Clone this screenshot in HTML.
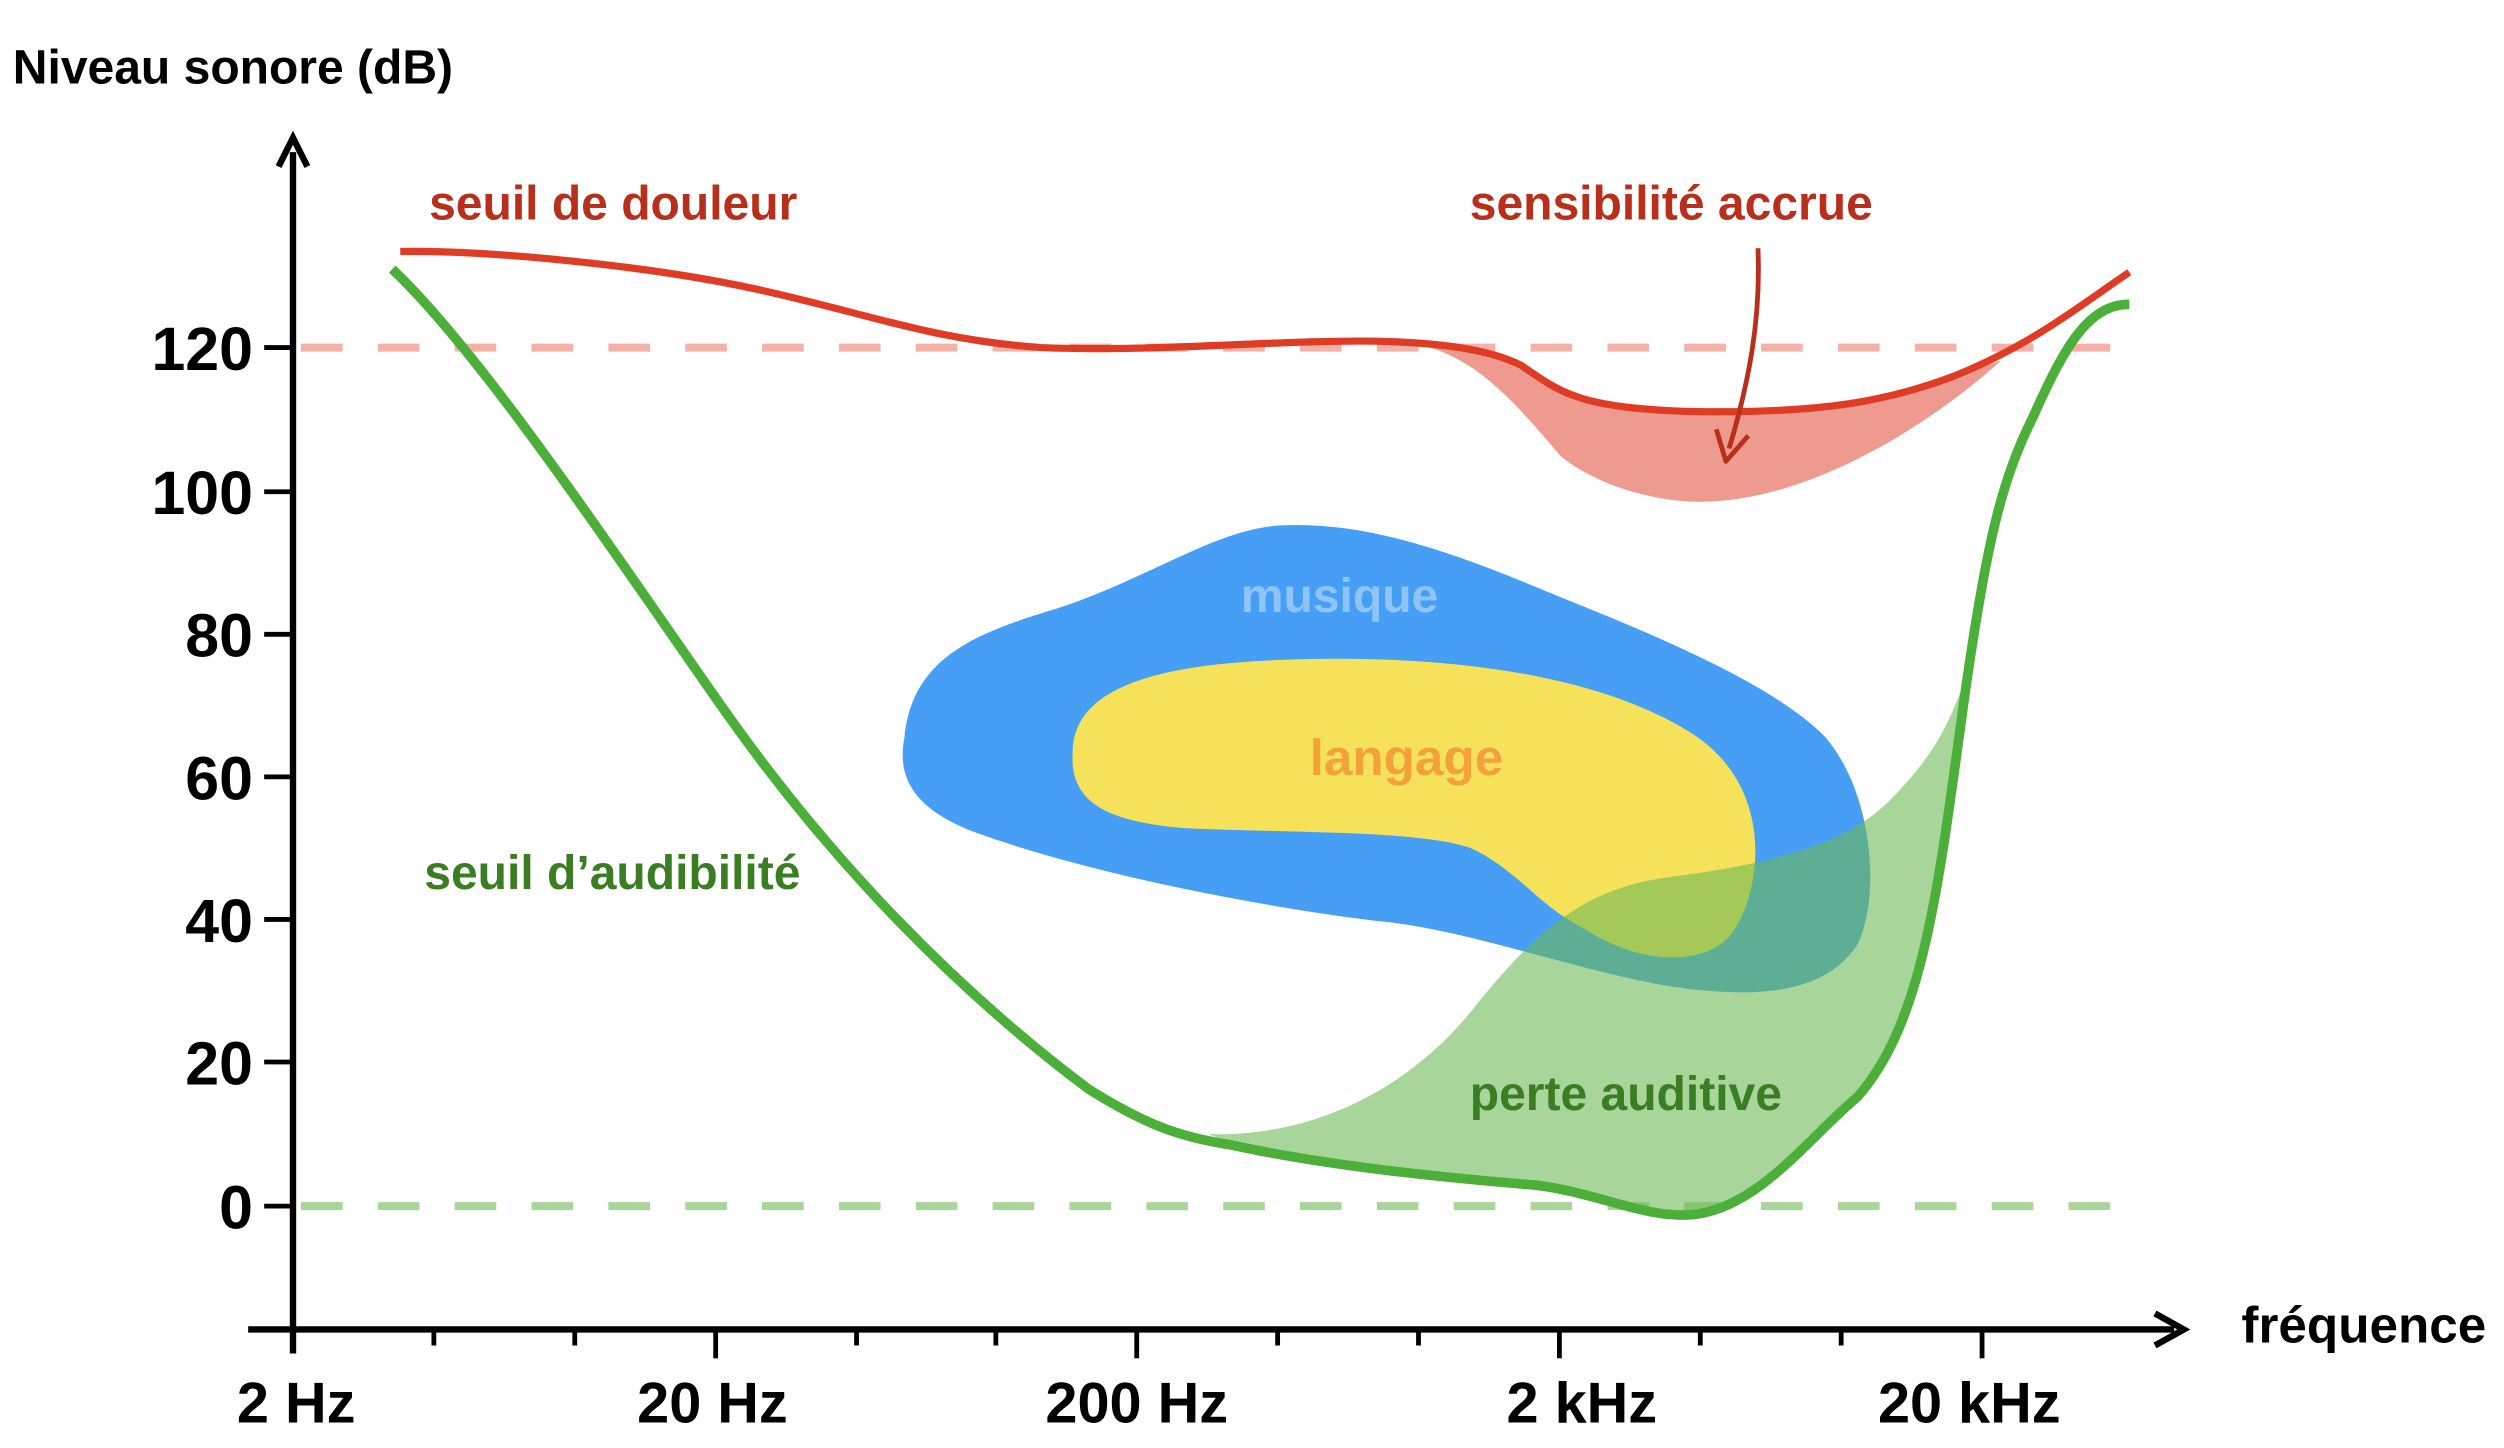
<!DOCTYPE html>
<html><head><meta charset="utf-8"><style>
html,body{margin:0;padding:0;background:#fff;}
svg{display:block;}
text{font-family:"Liberation Sans","DejaVu Sans",sans-serif;font-weight:bold;}
</style></head><body>
<svg width="2504" height="1448" viewBox="0 0 1564 904" preserveAspectRatio="none" xmlns="http://www.w3.org/2000/svg">
<rect width="1564" height="904" fill="#fff"/>
<line x1="188" y1="217" x2="1340" y2="217" stroke="#f4b1a6" stroke-width="5" stroke-dasharray="26 22"/>
<line x1="188" y1="753" x2="1340" y2="753" stroke="#a8d59a" stroke-width="5" stroke-dasharray="26 22"/>
<path d="M565,460 C570,410 610,395 660,380 C720,360 760,330 800,328 C860,325 920,350 980,375 C1050,403 1110,430 1140,460 C1170,495 1175,560 1160,590 C1140,620 1100,622 1060,618 C1000,612 920,580 860,575 C780,565 680,545 610,520 C570,505 560,485 565,460 Z" fill="#479ff5"/>
<path d="M670,470 C670,430 720,415 800,412 C900,408 1000,420 1060,460 C1110,495 1100,560 1080,585 C1060,605 1020,600 990,580 C960,565 950,545 920,530 C890,518 800,520 740,517 C690,513 668,500 670,470 Z" fill="#f5e25a"/>
<path d="M755,708 C820,710 880,680 920,630 C960,580 990,555 1040,548 C1100,540 1150,530 1180,500 C1210,470 1218,450 1229,420 L1225,450 C1210,560 1200,640 1160,685 C1130,710 1100,752 1060,758 C1030,762 1000,745 960,740 C900,735 830,728 770,715 Z" fill="#6eb957" fill-opacity="0.6"/>
<path d="M880,214 C920,220 945,250 975,285 C1000,305 1040,315 1070,313 C1130,310 1200,270 1250,225 L1220,235 C1180,250 1140,258 1060,257 C985,255 975,245 950,228 C930,218 900,214 880,214 Z" fill="#ee9a8e"/>
<path d="M250,157 C300,156 400,165 470,180 C540,195 580,212 650,217 C720,220 800,212 860,213 C900,214 930,218 950,228 C975,245 985,255 1060,257 C1140,258 1180,250 1220,235 C1270,215 1300,190 1330,170" fill="none" stroke="#e03c25" stroke-width="4.5"/>
<path d="M245,168 C300,220 380,340 450,440 C520,540 600,620 680,680 C720,705 740,710 770,715 C830,728 900,735 960,740 C1000,745 1030,762 1060,758 C1100,752 1130,710 1160,685 C1200,640 1210,560 1225,450 C1240,340 1250,300 1270,260 C1290,215 1305,190 1330,190" fill="none" stroke="#4caf3a" stroke-width="6"/>
<path d="M1098,155 C1100,200 1092,240 1080,280" fill="none" stroke="#b8301c" stroke-width="3"/>
<path d="M1072,268 L1078,288 L1092,272" fill="none" stroke="#b8301c" stroke-width="3" stroke-linejoin="round"/>
<line x1="183" y1="95" x2="183" y2="845" stroke="#000" stroke-width="4"/>
<path d="M174,104 L183,86 L192,104" fill="none" stroke="#000" stroke-width="4"/>
<line x1="155" y1="830" x2="1358" y2="830" stroke="#000" stroke-width="4"/>
<path d="M1346,820 L1364,830 L1346,840" fill="none" stroke="#000" stroke-width="4"/>
<g stroke="#000" stroke-width="3">
<line x1="165" y1="217" x2="183" y2="217"/><line x1="165" y1="307" x2="183" y2="307"/><line x1="165" y1="396" x2="183" y2="396"/><line x1="165" y1="485" x2="183" y2="485"/><line x1="165" y1="574" x2="183" y2="574"/><line x1="165" y1="663" x2="183" y2="663"/><line x1="165" y1="753" x2="183" y2="753"/>
<line x1="447" y1="830" x2="447" y2="848"/><line x1="710" y1="830" x2="710" y2="848"/><line x1="974" y1="830" x2="974" y2="848"/><line x1="1238" y1="830" x2="1238" y2="848"/>
<line x1="271" y1="830" x2="271" y2="840"/><line x1="359" y1="830" x2="359" y2="840"/><line x1="535" y1="830" x2="535" y2="840"/><line x1="622" y1="830" x2="622" y2="840"/><line x1="798" y1="830" x2="798" y2="840"/><line x1="886" y1="830" x2="886" y2="840"/><line x1="1062" y1="830" x2="1062" y2="840"/><line x1="1150" y1="830" x2="1150" y2="840"/>
</g>
<g font-size="38" fill="#000" text-anchor="end">
<text x="158" y="231">120</text><text x="158" y="321">100</text><text x="158" y="410">80</text><text x="158" y="499">60</text><text x="158" y="588">40</text><text x="158" y="677">20</text><text x="158" y="767">0</text>
</g>
<g font-size="36" fill="#000" text-anchor="middle">
<text x="185" y="888">2 Hz</text><text x="445" y="888">20 Hz</text><text x="710" y="888">200 Hz</text><text x="988" y="888">2 kHz</text><text x="1230" y="888">20 kHz</text>
</g>
<text x="8" y="52" font-size="30" fill="#000">Niveau sonore (dB)</text>
<text x="1400" y="838" font-size="32" fill="#000">fréquence</text>
<text x="268" y="137" font-size="30" fill="#b8301c">seuil de douleur</text>
<text x="918" y="137" font-size="30" fill="#b8301c">sensibilité accrue</text>
<text x="775" y="382" font-size="30" fill="#8ec4f7">musique</text>
<text x="818" y="484" font-size="32" fill="#f3a23a">langage</text>
<text x="265" y="555" font-size="30" fill="#3a7d22">seuil d’audibilité</text>
<text x="918" y="693" font-size="30" fill="#3a7d22">perte auditive</text>
</svg>
</body></html>
